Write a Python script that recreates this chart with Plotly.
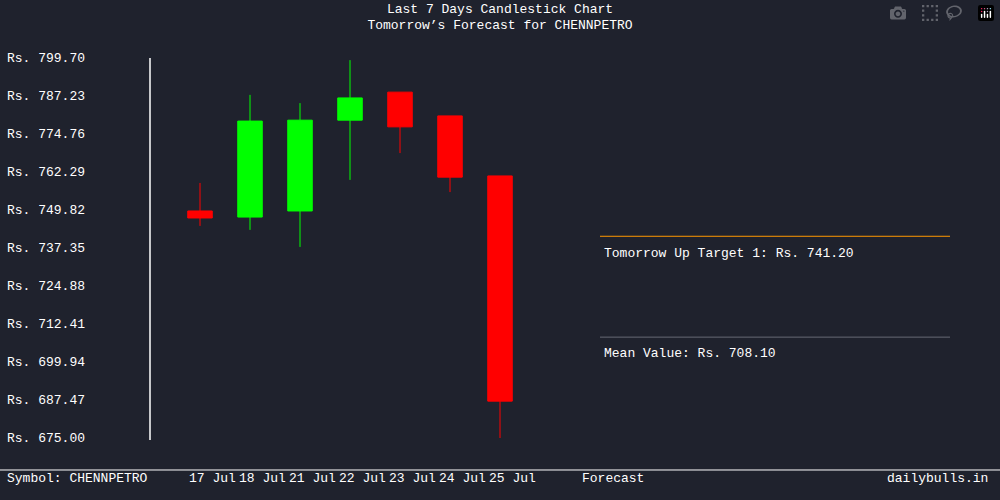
import plotly.graph_objects as go

days = ["17 Jul", "18 Jul", "21 Jul", "22 Jul", "23 Jul", "24 Jul", "25 Jul"]
opens = [749.5, 747.5, 749.5, 779.3, 788.5, 780.7, 761.0]
highs = [758.7, 787.6, 784.9, 799.0, 788.5, 780.7, 761.0]
lows = [744.6, 743.3, 737.7, 759.7, 768.5, 755.7, 674.3]
closes = [747.2, 779.0, 779.3, 786.6, 777.1, 760.6, 687.1]
ytick_vals = [675.00, 687.47, 699.94, 712.41, 724.88, 737.35, 749.82, 762.29, 774.76, 787.23, 799.70]
up_target = 741.20
mean_value = 708.10

font = dict(family="Liberation Mono", color="white", size=13)
bg = "#1f222d"

fig = go.Figure()
fig.add_trace(go.Candlestick(
    x=list(range(len(days))), open=opens, high=highs, low=lows, close=closes,
    increasing=dict(line=dict(color="#00ff00", width=1), fillcolor="#00ff00"),
    decreasing=dict(line=dict(color="#ff0000", width=1), fillcolor="#ff0000"),
    whiskerwidth=0, showlegend=False, hoverinfo="skip"))

ann = []
for v in ytick_vals:
    ann.append(dict(xref="paper", yref="y", x=-145 / 850, y=v, xanchor="left",
                    text="Rs. %.2f" % v, showarrow=False, font=font))
for i, d in enumerate(days):
    ann.append(dict(xref="x", yref="paper", x=i + 0.25, y=-0.1316, text=d,
                    showarrow=False, font=font))
ann += [
    dict(xref="x", yref="paper", x=8.25, y=-0.1316, text="Forecast", showarrow=False, font=font),
    dict(xref="paper", yref="paper", x=-145 / 850, y=-0.1316, xanchor="left",
         text="Symbol: CHENNPETRO", showarrow=False, font=font),
    dict(xref="paper", yref="paper", x=840 / 850, y=-0.1316, xanchor="right",
         text="dailybulls.in", showarrow=False, font=font),
    dict(xref="paper", yref="y", x=452 / 850, y=up_target - 5.5, xanchor="left",
         text="Tomorrow Up Target 1: Rs. %.2f" % up_target, showarrow=False, font=font),
    dict(xref="paper", yref="y", x=452 / 850, y=mean_value - 5.5, xanchor="left",
         text="Mean Value: Rs. %.2f" % mean_value, showarrow=False, font=font),
]

shapes = [
    dict(type="line", xref="paper", yref="paper", x0=0, x1=0, y0=-0.005, y1=1.0,
         line=dict(color="white", width=1.5)),
    dict(type="line", xref="paper", yref="y", x0=450 / 850, x1=800 / 850, y0=up_target, y1=up_target,
         line=dict(color="#ff9900", width=1)),
    dict(type="line", xref="paper", yref="y", x0=450 / 850, x1=800 / 850, y0=mean_value, y1=mean_value,
         line=dict(color="#666a75", width=1)),
    dict(type="line", xref="paper", yref="paper", x0=-150 / 850, x1=1, y0=-0.0842, y1=-0.0842,
         line=dict(color="white", width=1)),
]

fig.update_layout(
    width=1000, height=500, paper_bgcolor=bg, plot_bgcolor=bg, font=font,
    margin=dict(l=150, r=0, t=58, b=62),
    title=dict(text="Last 7 Days Candlestick Chart<br>Tomorrow’s Forecast for CHENNPETRO",
               x=0.5, xanchor="center", y=0.975, yanchor="top", font=font),
    xaxis=dict(range=[-1, 16], visible=False, rangeslider=dict(visible=False), fixedrange=True),
    yaxis=dict(range=[675, 799.7], visible=False, fixedrange=True),
    annotations=ann, shapes=shapes,
)

fig.write_html("out.html", post_script="document.body.style.margin='0';")
